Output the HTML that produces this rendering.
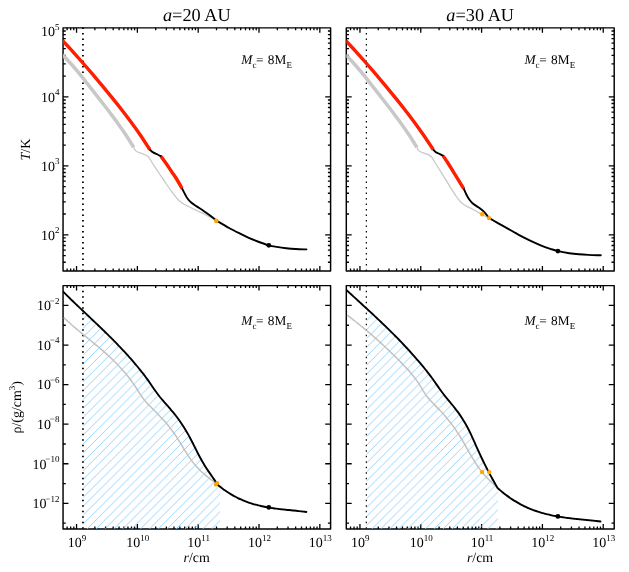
<!DOCTYPE html>
<html><head><meta charset="utf-8"><title>chart</title><style>html,body{margin:0;padding:0;background:#fff}svg{display:block}</style></head><body>
<svg width="629" height="572" viewBox="0 0 629 572">
<rect width="629" height="572" fill="#fff"/>
<defs>
<pattern id="h" patternUnits="userSpaceOnUse" width="8.9" height="8.9" x="2.0" y="0"><path d="M-1 9.9L9.9 -1M-1 1L1 -1M7.9 9.9L9.9 7.9" stroke="#7ccafb" stroke-width="0.8" fill="none"/></pattern>
<clipPath id="c00"><rect x="63.05" y="27.85" width="267.55" height="243.15"/></clipPath>
<clipPath id="c01"><rect x="63.05" y="285.60" width="267.55" height="243.30"/></clipPath>
<clipPath id="c10"><rect x="346.30" y="27.85" width="267.90" height="243.15"/></clipPath>
<clipPath id="c11"><rect x="346.30" y="285.60" width="267.90" height="243.30"/></clipPath>
<filter id="nf" x="0" y="0" width="629" height="572" filterUnits="userSpaceOnUse" color-interpolation-filters="sRGB"><feColorMatrix type="matrix" values="1 0 0 0 0 0 1 0 0 0 0 0 1 0 0 0 0 0 1 0"/></filter>
</defs>
<rect x="63.05" y="27.85" width="267.55" height="243.15" fill="none" stroke="#000" stroke-width="1.45" stroke-linejoin="round"/>
<rect x="63.05" y="285.60" width="267.55" height="243.30" fill="none" stroke="#000" stroke-width="1.45" stroke-linejoin="round"/>
<rect x="346.30" y="27.85" width="267.90" height="243.15" fill="none" stroke="#000" stroke-width="1.45" stroke-linejoin="round"/>
<rect x="346.30" y="285.60" width="267.90" height="243.30" fill="none" stroke="#000" stroke-width="1.45" stroke-linejoin="round"/>
<path d="M67.13 271.00v-2.45M67.13 27.85v2.45M70.66 271.00v-2.45M70.66 27.85v2.45M73.77 271.00v-2.45M73.77 27.85v2.45M76.55 271.00v-4.90M76.55 27.85v4.90M94.86 271.00v-2.45M94.86 27.85v2.45M105.57 271.00v-2.45M105.57 27.85v2.45M113.17 271.00v-2.45M113.17 27.85v2.45M119.06 271.00v-2.45M119.06 27.85v2.45M123.88 271.00v-2.45M123.88 27.85v2.45M127.95 271.00v-2.45M127.95 27.85v2.45M131.48 271.00v-2.45M131.48 27.85v2.45M134.59 271.00v-2.45M134.59 27.85v2.45M137.37 271.00v-4.90M137.37 27.85v4.90M155.68 271.00v-2.45M155.68 27.85v2.45M166.39 271.00v-2.45M166.39 27.85v2.45M173.99 271.00v-2.45M173.99 27.85v2.45M179.88 271.00v-2.45M179.88 27.85v2.45M184.70 271.00v-2.45M184.70 27.85v2.45M188.77 271.00v-2.45M188.77 27.85v2.45M192.30 271.00v-2.45M192.30 27.85v2.45M195.41 271.00v-2.45M195.41 27.85v2.45M198.19 271.00v-4.90M198.19 27.85v4.90M216.50 271.00v-2.45M216.50 27.85v2.45M227.21 271.00v-2.45M227.21 27.85v2.45M234.81 271.00v-2.45M234.81 27.85v2.45M240.70 271.00v-2.45M240.70 27.85v2.45M245.52 271.00v-2.45M245.52 27.85v2.45M249.59 271.00v-2.45M249.59 27.85v2.45M253.12 271.00v-2.45M253.12 27.85v2.45M256.23 271.00v-2.45M256.23 27.85v2.45M259.01 271.00v-4.90M259.01 27.85v4.90M277.32 271.00v-2.45M277.32 27.85v2.45M288.03 271.00v-2.45M288.03 27.85v2.45M295.63 271.00v-2.45M295.63 27.85v2.45M301.52 271.00v-2.45M301.52 27.85v2.45M306.34 271.00v-2.45M306.34 27.85v2.45M310.41 271.00v-2.45M310.41 27.85v2.45M313.94 271.00v-2.45M313.94 27.85v2.45M317.05 271.00v-2.45M317.05 27.85v2.45M319.83 271.00v-4.90M319.83 27.85v4.90M63.05 262.24h2.70M330.60 262.24h-2.70M63.05 255.56h2.70M330.60 255.56h-2.70M63.05 250.09h2.70M330.60 250.09h-2.70M63.05 245.48h2.70M330.60 245.48h-2.70M63.05 241.47h2.70M330.60 241.47h-2.70M63.05 237.95h2.70M330.60 237.95h-2.70M63.05 234.79h5.40M330.60 234.79h-5.40M63.05 214.02h2.70M330.60 214.02h-2.70M63.05 201.88h2.70M330.60 201.88h-2.70M63.05 193.26h2.70M330.60 193.26h-2.70M63.05 186.58h2.70M330.60 186.58h-2.70M63.05 181.11h2.70M330.60 181.11h-2.70M63.05 176.50h2.70M330.60 176.50h-2.70M63.05 172.49h2.70M330.60 172.49h-2.70M63.05 168.97h2.70M330.60 168.97h-2.70M63.05 165.81h5.40M330.60 165.81h-5.40M63.05 145.04h2.70M330.60 145.04h-2.70M63.05 132.90h2.70M330.60 132.90h-2.70M63.05 124.28h2.70M330.60 124.28h-2.70M63.05 117.60h2.70M330.60 117.60h-2.70M63.05 112.13h2.70M330.60 112.13h-2.70M63.05 107.52h2.70M330.60 107.52h-2.70M63.05 103.51h2.70M330.60 103.51h-2.70M63.05 99.99h2.70M330.60 99.99h-2.70M63.05 96.83h5.40M330.60 96.83h-5.40M63.05 76.06h2.70M330.60 76.06h-2.70M63.05 63.92h2.70M330.60 63.92h-2.70M63.05 55.30h2.70M330.60 55.30h-2.70M63.05 48.62h2.70M330.60 48.62h-2.70M63.05 43.15h2.70M330.60 43.15h-2.70M63.05 38.54h2.70M330.60 38.54h-2.70M63.05 34.53h2.70M330.60 34.53h-2.70M63.05 31.01h2.70M330.60 31.01h-2.70M67.13 528.90v-2.45M67.13 285.60v2.45M70.66 528.90v-2.45M70.66 285.60v2.45M73.77 528.90v-2.45M73.77 285.60v2.45M76.55 528.90v-4.90M76.55 285.60v4.90M94.86 528.90v-2.45M94.86 285.60v2.45M105.57 528.90v-2.45M105.57 285.60v2.45M113.17 528.90v-2.45M113.17 285.60v2.45M119.06 528.90v-2.45M119.06 285.60v2.45M123.88 528.90v-2.45M123.88 285.60v2.45M127.95 528.90v-2.45M127.95 285.60v2.45M131.48 528.90v-2.45M131.48 285.60v2.45M134.59 528.90v-2.45M134.59 285.60v2.45M137.37 528.90v-4.90M137.37 285.60v4.90M155.68 528.90v-2.45M155.68 285.60v2.45M166.39 528.90v-2.45M166.39 285.60v2.45M173.99 528.90v-2.45M173.99 285.60v2.45M179.88 528.90v-2.45M179.88 285.60v2.45M184.70 528.90v-2.45M184.70 285.60v2.45M188.77 528.90v-2.45M188.77 285.60v2.45M192.30 528.90v-2.45M192.30 285.60v2.45M195.41 528.90v-2.45M195.41 285.60v2.45M198.19 528.90v-4.90M198.19 285.60v4.90M216.50 528.90v-2.45M216.50 285.60v2.45M227.21 528.90v-2.45M227.21 285.60v2.45M234.81 528.90v-2.45M234.81 285.60v2.45M240.70 528.90v-2.45M240.70 285.60v2.45M245.52 528.90v-2.45M245.52 285.60v2.45M249.59 528.90v-2.45M249.59 285.60v2.45M253.12 528.90v-2.45M253.12 285.60v2.45M256.23 528.90v-2.45M256.23 285.60v2.45M259.01 528.90v-4.90M259.01 285.60v4.90M277.32 528.90v-2.45M277.32 285.60v2.45M288.03 528.90v-2.45M288.03 285.60v2.45M295.63 528.90v-2.45M295.63 285.60v2.45M301.52 528.90v-2.45M301.52 285.60v2.45M306.34 528.90v-2.45M306.34 285.60v2.45M310.41 528.90v-2.45M310.41 285.60v2.45M313.94 528.90v-2.45M313.94 285.60v2.45M317.05 528.90v-2.45M317.05 285.60v2.45M319.83 528.90v-4.90M319.83 285.60v4.90M63.05 523.14h2.70M330.60 523.14h-2.70M63.05 503.35h5.40M330.60 503.35h-5.40M63.05 483.56h2.70M330.60 483.56h-2.70M63.05 463.77h5.40M330.60 463.77h-5.40M63.05 443.98h2.70M330.60 443.98h-2.70M63.05 424.19h5.40M330.60 424.19h-5.40M63.05 404.40h2.70M330.60 404.40h-2.70M63.05 384.61h5.40M330.60 384.61h-5.40M63.05 364.82h2.70M330.60 364.82h-2.70M63.05 345.03h5.40M330.60 345.03h-5.40M63.05 325.24h2.70M330.60 325.24h-2.70M63.05 305.45h5.40M330.60 305.45h-5.40M350.53 271.00v-2.45M350.53 27.85v2.45M354.06 271.00v-2.45M354.06 27.85v2.45M357.17 271.00v-2.45M357.17 27.85v2.45M359.95 271.00v-4.90M359.95 27.85v4.90M378.26 271.00v-2.45M378.26 27.85v2.45M388.97 271.00v-2.45M388.97 27.85v2.45M396.57 271.00v-2.45M396.57 27.85v2.45M402.46 271.00v-2.45M402.46 27.85v2.45M407.28 271.00v-2.45M407.28 27.85v2.45M411.35 271.00v-2.45M411.35 27.85v2.45M414.88 271.00v-2.45M414.88 27.85v2.45M417.99 271.00v-2.45M417.99 27.85v2.45M420.77 271.00v-4.90M420.77 27.85v4.90M439.08 271.00v-2.45M439.08 27.85v2.45M449.79 271.00v-2.45M449.79 27.85v2.45M457.39 271.00v-2.45M457.39 27.85v2.45M463.28 271.00v-2.45M463.28 27.85v2.45M468.10 271.00v-2.45M468.10 27.85v2.45M472.17 271.00v-2.45M472.17 27.85v2.45M475.70 271.00v-2.45M475.70 27.85v2.45M478.81 271.00v-2.45M478.81 27.85v2.45M481.59 271.00v-4.90M481.59 27.85v4.90M499.90 271.00v-2.45M499.90 27.85v2.45M510.61 271.00v-2.45M510.61 27.85v2.45M518.21 271.00v-2.45M518.21 27.85v2.45M524.10 271.00v-2.45M524.10 27.85v2.45M528.92 271.00v-2.45M528.92 27.85v2.45M532.99 271.00v-2.45M532.99 27.85v2.45M536.52 271.00v-2.45M536.52 27.85v2.45M539.63 271.00v-2.45M539.63 27.85v2.45M542.41 271.00v-4.90M542.41 27.85v4.90M560.72 271.00v-2.45M560.72 27.85v2.45M571.43 271.00v-2.45M571.43 27.85v2.45M579.03 271.00v-2.45M579.03 27.85v2.45M584.92 271.00v-2.45M584.92 27.85v2.45M589.74 271.00v-2.45M589.74 27.85v2.45M593.81 271.00v-2.45M593.81 27.85v2.45M597.34 271.00v-2.45M597.34 27.85v2.45M600.45 271.00v-2.45M600.45 27.85v2.45M603.23 271.00v-4.90M603.23 27.85v4.90M346.30 262.24h2.70M614.20 262.24h-2.70M346.30 255.56h2.70M614.20 255.56h-2.70M346.30 250.09h2.70M614.20 250.09h-2.70M346.30 245.48h2.70M614.20 245.48h-2.70M346.30 241.47h2.70M614.20 241.47h-2.70M346.30 237.95h2.70M614.20 237.95h-2.70M346.30 234.79h5.40M614.20 234.79h-5.40M346.30 214.02h2.70M614.20 214.02h-2.70M346.30 201.88h2.70M614.20 201.88h-2.70M346.30 193.26h2.70M614.20 193.26h-2.70M346.30 186.58h2.70M614.20 186.58h-2.70M346.30 181.11h2.70M614.20 181.11h-2.70M346.30 176.50h2.70M614.20 176.50h-2.70M346.30 172.49h2.70M614.20 172.49h-2.70M346.30 168.97h2.70M614.20 168.97h-2.70M346.30 165.81h5.40M614.20 165.81h-5.40M346.30 145.04h2.70M614.20 145.04h-2.70M346.30 132.90h2.70M614.20 132.90h-2.70M346.30 124.28h2.70M614.20 124.28h-2.70M346.30 117.60h2.70M614.20 117.60h-2.70M346.30 112.13h2.70M614.20 112.13h-2.70M346.30 107.52h2.70M614.20 107.52h-2.70M346.30 103.51h2.70M614.20 103.51h-2.70M346.30 99.99h2.70M614.20 99.99h-2.70M346.30 96.83h5.40M614.20 96.83h-5.40M346.30 76.06h2.70M614.20 76.06h-2.70M346.30 63.92h2.70M614.20 63.92h-2.70M346.30 55.30h2.70M614.20 55.30h-2.70M346.30 48.62h2.70M614.20 48.62h-2.70M346.30 43.15h2.70M614.20 43.15h-2.70M346.30 38.54h2.70M614.20 38.54h-2.70M346.30 34.53h2.70M614.20 34.53h-2.70M346.30 31.01h2.70M614.20 31.01h-2.70M350.53 528.90v-2.45M350.53 285.60v2.45M354.06 528.90v-2.45M354.06 285.60v2.45M357.17 528.90v-2.45M357.17 285.60v2.45M359.95 528.90v-4.90M359.95 285.60v4.90M378.26 528.90v-2.45M378.26 285.60v2.45M388.97 528.90v-2.45M388.97 285.60v2.45M396.57 528.90v-2.45M396.57 285.60v2.45M402.46 528.90v-2.45M402.46 285.60v2.45M407.28 528.90v-2.45M407.28 285.60v2.45M411.35 528.90v-2.45M411.35 285.60v2.45M414.88 528.90v-2.45M414.88 285.60v2.45M417.99 528.90v-2.45M417.99 285.60v2.45M420.77 528.90v-4.90M420.77 285.60v4.90M439.08 528.90v-2.45M439.08 285.60v2.45M449.79 528.90v-2.45M449.79 285.60v2.45M457.39 528.90v-2.45M457.39 285.60v2.45M463.28 528.90v-2.45M463.28 285.60v2.45M468.10 528.90v-2.45M468.10 285.60v2.45M472.17 528.90v-2.45M472.17 285.60v2.45M475.70 528.90v-2.45M475.70 285.60v2.45M478.81 528.90v-2.45M478.81 285.60v2.45M481.59 528.90v-4.90M481.59 285.60v4.90M499.90 528.90v-2.45M499.90 285.60v2.45M510.61 528.90v-2.45M510.61 285.60v2.45M518.21 528.90v-2.45M518.21 285.60v2.45M524.10 528.90v-2.45M524.10 285.60v2.45M528.92 528.90v-2.45M528.92 285.60v2.45M532.99 528.90v-2.45M532.99 285.60v2.45M536.52 528.90v-2.45M536.52 285.60v2.45M539.63 528.90v-2.45M539.63 285.60v2.45M542.41 528.90v-4.90M542.41 285.60v4.90M560.72 528.90v-2.45M560.72 285.60v2.45M571.43 528.90v-2.45M571.43 285.60v2.45M579.03 528.90v-2.45M579.03 285.60v2.45M584.92 528.90v-2.45M584.92 285.60v2.45M589.74 528.90v-2.45M589.74 285.60v2.45M593.81 528.90v-2.45M593.81 285.60v2.45M597.34 528.90v-2.45M597.34 285.60v2.45M600.45 528.90v-2.45M600.45 285.60v2.45M603.23 528.90v-4.90M603.23 285.60v4.90M346.30 523.14h2.70M614.20 523.14h-2.70M346.30 503.35h5.40M614.20 503.35h-5.40M346.30 483.56h2.70M614.20 483.56h-2.70M346.30 463.77h5.40M614.20 463.77h-5.40M346.30 443.98h2.70M614.20 443.98h-2.70M346.30 424.19h5.40M614.20 424.19h-5.40M346.30 404.40h2.70M614.20 404.40h-2.70M346.30 384.61h5.40M614.20 384.61h-5.40M346.30 364.82h2.70M614.20 364.82h-2.70M346.30 345.03h5.40M614.20 345.03h-5.40M346.30 325.24h2.70M614.20 325.24h-2.70M346.30 305.45h5.40M614.20 305.45h-5.40" stroke="#000" stroke-width="1.3" fill="none"/>
<polygon points="83.2,311.1 85.1,312.9 87.6,315.3 90.1,317.6 92.6,320.0 95.1,322.4 97.6,324.8 100.1,327.1 102.6,329.6 105.1,332.0 107.6,334.4 110.1,336.9 112.6,339.4 115.1,341.9 117.6,344.5 120.1,347.1 122.6,349.8 125.1,352.5 127.6,355.2 130.1,358.0 132.6,360.9 135.1,363.8 137.6,366.8 140.1,369.8 142.6,373.0 145.1,376.2 147.6,379.7 150.1,383.2 152.6,386.9 155.1,390.6 157.6,394.0 160.1,397.2 162.6,400.2 165.1,403.1 167.6,405.9 170.1,408.7 172.6,411.7 175.1,414.8 177.6,418.1 180.1,421.5 182.6,425.2 185.1,429.2 187.6,433.4 190.1,437.9 192.6,442.8 195.1,447.8 197.6,452.8 200.1,457.6 202.6,462.0 205.1,466.1 207.6,470.0 210.1,473.6 212.6,477.2 215.1,480.9 217.6,484.6 220.0,486.6 220.0,528.9 83.2,528.9" fill="url(#h)"/>
<polygon points="366.5,308.4 369.0,310.7 371.5,313.1 374.0,315.4 376.5,317.8 379.1,320.1 381.6,322.6 384.1,325.0 386.6,327.4 389.1,329.9 391.7,332.4 394.2,334.9 396.7,337.4 399.2,340.0 401.7,342.6 404.3,345.3 406.8,348.0 409.3,350.8 411.8,353.5 414.3,356.4 416.9,359.3 419.4,362.2 421.9,365.2 424.4,368.3 426.9,371.4 429.5,374.7 432.0,378.0 434.5,381.5 437.0,385.2 439.5,388.8 442.1,392.3 444.6,395.6 447.1,398.7 449.6,401.7 452.1,404.8 454.7,407.9 457.2,411.1 459.7,414.6 462.2,418.4 464.7,422.5 467.3,427.0 469.8,431.9 472.3,437.4 474.8,443.0 477.3,448.7 479.9,454.2 482.4,459.5 484.9,464.6 487.4,469.6 489.9,474.4 492.5,479.0 495.0,483.5 497.5,487.9 498.0,488.3 498.0,528.9 366.5,528.9" fill="url(#h)"/>
<line x1="82.95" x2="82.95" y1="27.55" y2="271.00" stroke="#000" stroke-width="1.8" stroke-dasharray="1.5 4" stroke-dashoffset="0"/>
<line x1="82.95" x2="82.95" y1="285.30" y2="528.90" stroke="#000" stroke-width="1.8" stroke-dasharray="1.5 4" stroke-dashoffset="0"/>
<line x1="366.35" x2="366.35" y1="27.55" y2="271.00" stroke="#000" stroke-width="1.2" stroke-dasharray="1.5 4" stroke-dashoffset="0"/>
<line x1="366.35" x2="366.35" y1="285.30" y2="528.90" stroke="#000" stroke-width="1.2" stroke-dasharray="1.5 4" stroke-dashoffset="0"/>
<g clip-path="url(#c00)">
<path d="M62.60 55.00C63.92 56.37 67.87 60.30 70.50 63.20C73.13 66.10 75.77 69.22 78.40 72.40C81.03 75.58 83.67 78.97 86.30 82.30C88.93 85.63 91.57 89.03 94.20 92.40C96.83 95.77 99.47 99.10 102.10 102.50C104.73 105.90 107.37 109.32 110.00 112.80C112.63 116.28 115.27 119.73 117.90 123.40C120.53 127.07 123.17 130.80 125.80 134.80C128.43 138.80 132.38 145.30 133.70 147.40" fill="none" stroke="#c8c8c8" stroke-width="3.5" stroke-linejoin="round" stroke-linecap="butt"/>
<path d="M133.70 147.40C134.00 147.93 134.58 149.72 135.50 150.60C136.42 151.48 137.77 152.08 139.20 152.70C140.63 153.32 142.55 153.58 144.10 154.30C145.65 155.02 147.18 155.63 148.50 157.00C149.82 158.37 150.25 159.83 152.00 162.50C153.75 165.17 156.67 169.50 159.00 173.00C161.33 176.50 163.67 180.12 166.00 183.50C168.33 186.88 171.02 190.63 173.00 193.30C174.98 195.97 176.38 197.88 177.90 199.50C179.42 201.12 180.35 201.83 182.10 203.00C183.85 204.17 185.97 205.25 188.40 206.50C190.83 207.75 193.92 209.18 196.70 210.50C199.48 211.82 202.53 213.12 205.10 214.40C207.67 215.68 210.23 217.17 212.10 218.20C213.97 219.23 215.60 220.20 216.30 220.60" fill="none" stroke="#c8c8c8" stroke-width="1.3" stroke-linejoin="round" stroke-linecap="butt"/>
<path d="M62.60 40.70C64.22 42.43 69.07 47.55 72.30 51.10C75.53 54.65 78.77 58.32 82.00 62.00C85.23 65.68 88.47 69.42 91.70 73.20C94.93 76.98 98.18 80.83 101.40 84.70C104.62 88.57 107.78 92.43 111.00 96.40C114.22 100.37 117.47 104.37 120.70 108.50C123.93 112.63 127.17 116.83 130.40 121.20C133.63 125.57 136.87 129.98 140.10 134.70C143.33 139.42 148.18 147.03 149.80 149.50C151.42 151.97 149.52 149.22 149.80 149.50C150.08 149.78 150.88 150.67 151.50 151.20C152.12 151.73 152.48 152.15 153.50 152.70C154.52 153.25 156.33 153.88 157.60 154.50C158.87 155.12 160.52 156.08 161.10 156.40C161.68 156.72 160.28 155.27 161.10 156.40C161.92 157.53 164.25 160.67 166.00 163.20C167.75 165.73 169.73 168.80 171.60 171.60C173.47 174.40 175.47 177.20 177.20 180.00C178.93 182.80 181.20 187.00 182.00 188.40C182.80 189.80 181.52 187.47 182.00 188.40C182.48 189.33 183.95 192.27 184.90 194.00C185.85 195.73 186.65 197.37 187.70 198.80C188.75 200.23 189.70 201.33 191.20 202.60C192.70 203.87 194.62 205.00 196.70 206.40C198.78 207.80 201.37 209.40 203.70 211.00C206.03 212.60 208.60 214.40 210.70 216.00C212.80 217.60 215.37 219.83 216.30 220.60M216.30 220.60C217.47 221.27 221.17 223.37 223.30 224.60C225.43 225.83 226.55 226.62 229.10 228.00C231.65 229.38 235.42 231.30 238.60 232.90C241.78 234.50 245.02 236.17 248.20 237.60C251.38 239.03 254.27 240.22 257.70 241.50C261.13 242.78 265.62 244.40 268.80 245.30C271.98 246.20 273.88 246.42 276.80 246.90C279.72 247.38 283.12 247.85 286.30 248.20C289.48 248.55 292.55 248.80 295.90 249.00C299.25 249.20 304.65 249.33 306.40 249.40" fill="none" stroke="#000" stroke-width="1.9" stroke-linejoin="round" stroke-linecap="round"/>
<path d="M62.60 40.70C64.22 42.43 69.07 47.55 72.30 51.10C75.53 54.65 78.77 58.32 82.00 62.00C85.23 65.68 88.47 69.42 91.70 73.20C94.93 76.98 98.18 80.83 101.40 84.70C104.62 88.57 107.78 92.43 111.00 96.40C114.22 100.37 117.47 104.37 120.70 108.50C123.93 112.63 127.17 116.83 130.40 121.20C133.63 125.57 136.87 129.98 140.10 134.70C143.33 139.42 148.18 147.03 149.80 149.50" fill="none" stroke="#ff1e00" stroke-width="3.4" stroke-linejoin="round" stroke-linecap="butt"/>
<path d="M161.10 156.40C161.92 157.53 164.25 160.67 166.00 163.20C167.75 165.73 169.73 168.80 171.60 171.60C173.47 174.40 175.47 177.20 177.20 180.00C178.93 182.80 181.20 187.00 182.00 188.40" fill="none" stroke="#ff1e00" stroke-width="3.4" stroke-linejoin="round" stroke-linecap="butt"/>
</g><g clip-path="url(#c10)">
<path d="M345.80 55.00C347.12 56.37 351.07 60.30 353.70 63.20C356.33 66.10 358.97 69.22 361.60 72.40C364.23 75.58 366.87 78.97 369.50 82.30C372.13 85.63 374.77 89.03 377.40 92.40C380.03 95.77 382.67 99.10 385.30 102.50C387.93 105.90 390.57 109.32 393.20 112.80C395.83 116.28 398.47 119.73 401.10 123.40C403.73 127.07 406.37 130.80 409.00 134.80C411.63 138.80 415.58 145.30 416.90 147.40" fill="none" stroke="#c8c8c8" stroke-width="3.5" stroke-linejoin="round" stroke-linecap="butt"/>
<path d="M416.90 147.40C417.20 147.93 417.78 149.72 418.70 150.60C419.62 151.48 420.97 152.08 422.40 152.70C423.83 153.32 425.78 153.58 427.30 154.30C428.82 155.02 430.22 155.63 431.50 157.00C432.78 158.37 433.25 159.72 435.00 162.50C436.75 165.28 439.67 169.97 442.00 173.70C444.33 177.43 446.67 181.18 449.00 184.90C451.33 188.62 454.02 193.10 456.00 196.00C457.98 198.90 459.27 200.67 460.90 202.30C462.53 203.93 463.82 204.63 465.80 205.80C467.78 206.97 470.72 208.20 472.80 209.30C474.88 210.40 476.80 211.58 478.30 212.40C479.80 213.22 480.40 213.43 481.80 214.20C483.20 214.97 485.48 216.37 486.70 217.00C487.92 217.63 488.70 217.83 489.10 218.00" fill="none" stroke="#c8c8c8" stroke-width="1.3" stroke-linejoin="round" stroke-linecap="butt"/>
<path d="M345.80 40.70C347.42 42.43 352.27 47.55 355.50 51.10C358.73 54.65 361.97 58.32 365.20 62.00C368.43 65.68 371.67 69.42 374.90 73.20C378.13 76.98 381.38 80.83 384.60 84.70C387.82 88.57 390.98 92.43 394.20 96.40C397.42 100.37 400.67 104.37 403.90 108.50C407.13 112.63 410.37 116.83 413.60 121.20C416.83 125.57 420.03 129.98 423.30 134.70C426.57 139.42 431.55 147.03 433.20 149.50C434.85 151.97 432.93 149.22 433.20 149.50C433.47 149.78 434.23 150.67 434.80 151.20C435.37 151.73 435.75 152.22 436.60 152.70C437.45 153.18 438.82 153.57 439.90 154.10C440.98 154.63 442.57 155.60 443.10 155.90C443.63 156.20 442.35 154.80 443.10 155.90C443.85 157.00 445.92 159.88 447.60 162.50C449.28 165.12 451.33 168.57 453.20 171.60C455.07 174.63 457.05 177.87 458.80 180.70C460.55 183.53 462.88 187.28 463.70 188.60C464.52 189.92 463.23 187.58 463.70 188.60C464.17 189.62 465.57 192.88 466.50 194.70C467.43 196.52 468.25 198.03 469.30 199.50C470.35 200.97 471.30 202.22 472.80 203.50C474.30 204.78 476.45 205.85 478.30 207.20C480.15 208.55 482.10 209.80 483.90 211.60C485.70 213.40 488.23 216.93 489.10 218.00M489.10 218.00C489.75 218.37 490.77 218.92 493.00 220.20C495.23 221.48 499.32 223.90 502.50 225.70C505.68 227.50 508.92 229.22 512.10 231.00C515.28 232.78 518.42 234.72 521.60 236.40C524.78 238.08 528.02 239.62 531.20 241.10C534.38 242.58 537.52 244.02 540.70 245.30C543.88 246.58 547.43 247.83 550.30 248.80C553.17 249.77 554.73 250.37 557.90 251.10C561.07 251.83 565.80 252.67 569.30 253.20C572.80 253.73 575.72 254.02 578.90 254.30C582.08 254.58 584.75 254.73 588.40 254.90C592.05 255.07 598.73 255.23 600.80 255.30" fill="none" stroke="#000" stroke-width="1.9" stroke-linejoin="round" stroke-linecap="round"/>
<path d="M345.80 40.70C347.42 42.43 352.27 47.55 355.50 51.10C358.73 54.65 361.97 58.32 365.20 62.00C368.43 65.68 371.67 69.42 374.90 73.20C378.13 76.98 381.38 80.83 384.60 84.70C387.82 88.57 390.98 92.43 394.20 96.40C397.42 100.37 400.67 104.37 403.90 108.50C407.13 112.63 410.37 116.83 413.60 121.20C416.83 125.57 420.03 129.98 423.30 134.70C426.57 139.42 431.55 147.03 433.20 149.50" fill="none" stroke="#ff1e00" stroke-width="3.4" stroke-linejoin="round" stroke-linecap="butt"/>
<path d="M443.10 155.90C443.85 157.00 445.92 159.88 447.60 162.50C449.28 165.12 451.33 168.57 453.20 171.60C455.07 174.63 457.05 177.87 458.80 180.70C460.55 183.53 462.88 187.28 463.70 188.60" fill="none" stroke="#ff1e00" stroke-width="3.4" stroke-linejoin="round" stroke-linecap="butt"/>
</g><g clip-path="url(#c01)">
<path d="M63.80 317.60C64.22 318.00 65.48 319.20 66.32 319.98C67.16 320.76 68.00 321.52 68.84 322.28C69.68 323.04 70.52 323.79 71.36 324.53C72.20 325.27 73.05 326.00 73.89 326.72C74.73 327.44 75.57 328.16 76.41 328.87C77.25 329.58 78.09 330.28 78.93 330.98C79.77 331.68 80.61 332.37 81.45 333.06C82.29 333.75 83.13 334.44 83.97 335.12C84.81 335.81 85.65 336.49 86.49 337.17C87.33 337.85 88.17 338.54 89.01 339.22C89.85 339.90 90.69 340.58 91.53 341.27C92.37 341.95 93.22 342.64 94.06 343.33C94.90 344.02 95.74 344.71 96.58 345.41C97.42 346.11 98.26 346.82 99.10 347.53C99.94 348.24 100.78 348.96 101.62 349.68C102.46 350.40 103.30 351.13 104.14 351.87C104.98 352.61 105.82 353.36 106.66 354.12C107.50 354.88 108.34 355.65 109.18 356.43C110.02 357.21 110.86 358.00 111.70 358.81C112.54 359.62 113.39 360.44 114.23 361.27C115.07 362.10 115.91 362.95 116.75 363.82C117.59 364.69 118.43 365.56 119.27 366.46C120.11 367.36 120.95 368.26 121.79 369.20C122.63 370.13 123.47 371.09 124.31 372.07C125.15 373.05 125.99 374.05 126.83 375.08C127.67 376.11 128.51 377.17 129.35 378.26C130.19 379.35 131.04 380.47 131.88 381.63C132.72 382.79 133.56 383.97 134.40 385.20C135.24 386.43 136.08 387.71 136.92 389.01C137.76 390.31 138.60 391.69 139.44 392.98C140.28 394.27 141.12 395.57 141.96 396.76C142.80 397.95 143.64 399.05 144.48 400.10C145.32 401.15 146.16 402.12 147.00 403.07C147.84 404.01 148.68 404.89 149.52 405.77C150.36 406.64 151.21 407.48 152.05 408.32C152.89 409.16 153.73 409.98 154.57 410.81C155.41 411.64 156.25 412.48 157.09 413.33C157.93 414.18 158.77 415.04 159.61 415.91C160.45 416.78 161.29 417.66 162.13 418.57C162.97 419.48 163.81 420.40 164.65 421.35C165.49 422.30 166.33 423.27 167.17 424.28C168.01 425.29 168.86 426.32 169.70 427.39C170.54 428.46 171.38 429.56 172.22 430.70C173.06 431.84 173.90 433.02 174.74 434.25C175.58 435.48 176.42 436.75 177.26 438.06C178.10 439.37 178.94 440.73 179.78 442.09C180.62 443.45 181.46 444.86 182.30 446.24C183.14 447.62 183.98 449.02 184.82 450.38C185.66 451.74 186.50 453.09 187.34 454.39C188.18 455.69 189.03 456.97 189.87 458.17C190.71 459.38 191.55 460.52 192.39 461.62C193.23 462.72 194.07 463.75 194.91 464.75C195.75 465.75 196.59 466.68 197.43 467.59C198.27 468.50 199.11 469.35 199.95 470.18C200.79 471.01 201.63 471.80 202.47 472.57C203.31 473.34 204.15 474.06 204.99 474.78C205.83 475.50 206.67 476.18 207.51 476.86C208.35 477.54 209.20 478.20 210.04 478.85C210.88 479.50 211.72 480.13 212.56 480.77C213.40 481.41 214.24 482.04 215.08 482.68C215.92 483.32 217.18 484.28 217.60 484.60" fill="none" stroke="#c2c2c2" stroke-width="1.5" stroke-linejoin="round" stroke-linecap="butt"/>
<path d="M62.60 291.10C63.02 291.52 64.27 292.78 65.10 293.61C65.93 294.44 66.77 295.28 67.60 296.10C68.43 296.92 69.27 297.74 70.10 298.55C70.93 299.37 71.77 300.18 72.60 300.99C73.43 301.80 74.27 302.60 75.10 303.40C75.93 304.20 76.77 305.00 77.60 305.80C78.43 306.60 79.27 307.39 80.10 308.18C80.93 308.97 81.77 309.77 82.60 310.56C83.43 311.35 84.27 312.13 85.10 312.92C85.93 313.71 86.77 314.49 87.60 315.28C88.43 316.07 89.27 316.85 90.10 317.64C90.93 318.43 91.77 319.22 92.60 320.01C93.43 320.80 94.27 321.59 95.10 322.38C95.93 323.17 96.77 323.96 97.60 324.76C98.43 325.56 99.27 326.35 100.10 327.15C100.93 327.95 101.77 328.75 102.60 329.56C103.43 330.37 104.27 331.17 105.10 331.98C105.93 332.79 106.77 333.61 107.60 334.43C108.43 335.25 109.27 336.08 110.10 336.91C110.93 337.74 111.77 338.57 112.60 339.41C113.43 340.25 114.27 341.10 115.10 341.95C115.93 342.80 116.77 343.66 117.60 344.52C118.43 345.38 119.27 346.25 120.10 347.13C120.93 348.01 121.77 348.89 122.60 349.78C123.43 350.67 124.27 351.56 125.10 352.47C125.93 353.38 126.77 354.30 127.60 355.22C128.43 356.15 129.27 357.08 130.10 358.02C130.93 358.96 131.77 359.91 132.60 360.87C133.43 361.83 134.27 362.80 135.10 363.78C135.93 364.76 136.77 365.75 137.60 366.75C138.43 367.75 139.27 368.77 140.10 369.81C140.93 370.85 141.77 371.90 142.60 372.97C143.43 374.04 144.27 375.12 145.10 376.24C145.93 377.36 146.77 378.50 147.60 379.66C148.43 380.83 149.27 382.02 150.10 383.23C150.93 384.44 151.77 385.69 152.60 386.91C153.43 388.13 154.27 389.37 155.10 390.55C155.93 391.74 156.77 392.91 157.60 394.02C158.43 395.13 159.27 396.20 160.10 397.23C160.93 398.26 161.77 399.25 162.60 400.22C163.43 401.20 164.27 402.13 165.10 403.08C165.93 404.02 166.77 404.95 167.60 405.89C168.43 406.83 169.27 407.76 170.10 408.73C170.93 409.70 171.77 410.67 172.60 411.68C173.43 412.69 174.27 413.72 175.10 414.78C175.93 415.84 176.77 416.93 177.60 418.05C178.43 419.17 179.27 420.33 180.10 421.52C180.93 422.71 181.77 423.94 182.60 425.21C183.43 426.48 184.27 427.80 185.10 429.16C185.93 430.53 186.77 431.94 187.60 433.40C188.43 434.86 189.27 436.38 190.10 437.94C190.93 439.50 191.77 441.14 192.60 442.78C193.43 444.42 194.27 446.11 195.10 447.77C195.93 449.43 196.77 451.13 197.60 452.76C198.43 454.39 199.27 456.02 200.10 457.57C200.93 459.12 201.77 460.61 202.60 462.04C203.43 463.47 204.27 464.82 205.10 466.14C205.93 467.46 206.77 468.72 207.60 469.97C208.43 471.22 209.27 472.42 210.10 473.63C210.93 474.84 211.77 476.03 212.60 477.23C213.43 478.43 214.27 479.62 215.10 480.85C215.93 482.08 217.18 483.98 217.60 484.60M217.60 484.60C218.02 484.95 219.29 486.01 220.14 486.69C220.98 487.37 221.82 488.03 222.67 488.66C223.51 489.30 224.36 489.91 225.21 490.50C226.06 491.09 226.90 491.67 227.75 492.22C228.60 492.78 229.44 493.31 230.29 493.83C231.13 494.35 231.97 494.85 232.82 495.33C233.66 495.81 234.51 496.28 235.36 496.73C236.21 497.18 237.06 497.61 237.90 498.03C238.75 498.45 239.59 498.85 240.43 499.23C241.28 499.62 242.12 499.98 242.97 500.34C243.82 500.69 244.66 501.03 245.51 501.36C246.36 501.69 247.21 502.01 248.05 502.31C248.90 502.61 249.74 502.90 250.58 503.18C251.43 503.46 252.27 503.72 253.12 503.97C253.97 504.22 254.81 504.47 255.66 504.70C256.50 504.93 257.34 505.15 258.19 505.36C259.04 505.57 259.88 505.78 260.73 505.97C261.58 506.16 262.42 506.34 263.27 506.52C264.12 506.69 264.97 506.86 265.81 507.02C266.65 507.18 267.50 507.33 268.34 507.47C269.18 507.62 270.03 507.76 270.88 507.89C271.73 508.02 272.58 508.15 273.42 508.27C274.26 508.39 275.11 508.51 275.95 508.62C276.79 508.73 277.64 508.84 278.49 508.94C279.34 509.04 280.18 509.14 281.03 509.24C281.88 509.34 282.72 509.43 283.57 509.52C284.42 509.61 285.25 509.70 286.10 509.79C286.95 509.88 287.79 509.97 288.64 510.05C289.49 510.13 290.34 510.22 291.18 510.30C292.02 510.38 292.87 510.47 293.71 510.56C294.55 510.65 295.40 510.73 296.25 510.82C297.10 510.91 297.94 511.00 298.79 511.09C299.64 511.18 300.49 511.27 301.33 511.37C302.17 511.47 303.01 511.56 303.86 511.67C304.71 511.78 305.98 511.94 306.40 512.00" fill="none" stroke="#000" stroke-width="1.9" stroke-linejoin="round" stroke-linecap="round"/>
</g><g clip-path="url(#c11)">
<path d="M347.00 315.00C347.42 315.31 348.67 316.25 349.51 316.89C350.35 317.52 351.19 318.17 352.02 318.81C352.85 319.45 353.69 320.10 354.52 320.75C355.35 321.40 356.19 322.07 357.03 322.73C357.87 323.39 358.70 324.06 359.54 324.73C360.38 325.40 361.21 326.09 362.05 326.77C362.89 327.45 363.72 328.14 364.56 328.83C365.40 329.52 366.24 330.23 367.07 330.93C367.90 331.63 368.74 332.34 369.57 333.05C370.40 333.76 371.24 334.49 372.08 335.21C372.92 335.93 373.75 336.66 374.59 337.39C375.43 338.12 376.26 338.87 377.10 339.61C377.94 340.36 378.77 341.10 379.61 341.86C380.45 342.62 381.29 343.38 382.12 344.15C382.95 344.92 383.79 345.68 384.62 346.46C385.45 347.24 386.29 348.02 387.13 348.81C387.97 349.60 388.80 350.39 389.64 351.19C390.48 351.99 391.31 352.80 392.15 353.61C392.99 354.42 393.82 355.24 394.66 356.06C395.50 356.88 396.33 357.71 397.17 358.54C398.01 359.37 398.85 360.21 399.68 361.06C400.51 361.91 401.35 362.76 402.18 363.62C403.01 364.48 403.85 365.33 404.69 366.21C405.53 367.09 406.36 367.97 407.20 368.88C408.04 369.79 408.87 370.72 409.71 371.68C410.55 372.64 411.38 373.63 412.22 374.66C413.06 375.69 413.90 376.76 414.73 377.88C415.56 379.00 416.40 380.16 417.23 381.38C418.06 382.60 418.90 383.89 419.74 385.22C420.58 386.55 421.41 388.00 422.25 389.35C423.09 390.70 423.92 392.09 424.76 393.34C425.60 394.58 426.44 395.73 427.27 396.82C428.10 397.91 428.94 398.90 429.77 399.86C430.60 400.82 431.44 401.70 432.28 402.58C433.12 403.46 433.95 404.29 434.79 405.13C435.63 405.97 436.46 406.78 437.30 407.62C438.14 408.46 438.97 409.31 439.81 410.19C440.65 411.07 441.49 411.97 442.32 412.89C443.15 413.81 443.99 414.74 444.82 415.71C445.65 416.68 446.49 417.67 447.33 418.69C448.17 419.71 449.00 420.75 449.84 421.83C450.68 422.90 451.51 424.00 452.35 425.14C453.19 426.27 454.02 427.44 454.86 428.64C455.70 429.84 456.53 431.07 457.37 432.34C458.21 433.61 459.05 434.91 459.88 436.25C460.71 437.59 461.55 438.98 462.38 440.39C463.21 441.80 464.05 443.27 464.89 444.73C465.73 446.19 466.56 447.69 467.40 449.17C468.24 450.65 469.07 452.16 469.91 453.62C470.75 455.08 471.58 456.55 472.42 457.96C473.26 459.37 474.10 460.77 474.93 462.09C475.76 463.41 476.60 464.68 477.43 465.90C478.26 467.12 479.10 468.27 479.94 469.39C480.78 470.50 481.61 471.56 482.45 472.59C483.29 473.62 484.12 474.59 484.96 475.54C485.80 476.49 486.63 477.40 487.47 478.28C488.31 479.16 489.15 480.01 489.98 480.84C490.81 481.67 491.65 482.48 492.48 483.28C493.31 484.08 494.15 484.85 494.99 485.62C495.83 486.39 497.08 487.52 497.50 487.90" fill="none" stroke="#c2c2c2" stroke-width="1.5" stroke-linejoin="round" stroke-linecap="butt"/>
<path d="M346.30 289.90C346.72 290.29 347.98 291.46 348.82 292.23C349.66 293.00 350.50 293.78 351.34 294.55C352.18 295.32 353.02 296.09 353.86 296.86C354.70 297.63 355.54 298.40 356.38 299.17C357.22 299.94 358.06 300.71 358.90 301.48C359.74 302.25 360.58 303.01 361.42 303.78C362.26 304.55 363.10 305.33 363.94 306.10C364.78 306.87 365.62 307.64 366.46 308.41C367.30 309.18 368.14 309.96 368.98 310.74C369.82 311.52 370.66 312.29 371.50 313.07C372.34 313.85 373.18 314.63 374.02 315.42C374.86 316.21 375.70 316.99 376.54 317.78C377.38 318.57 378.22 319.35 379.06 320.15C379.90 320.94 380.74 321.75 381.58 322.55C382.42 323.35 383.26 324.15 384.10 324.96C384.94 325.77 385.78 326.58 386.62 327.40C387.46 328.22 388.30 329.04 389.14 329.87C389.98 330.70 390.82 331.53 391.66 332.36C392.50 333.19 393.34 334.03 394.18 334.88C395.02 335.73 395.86 336.57 396.70 337.43C397.54 338.29 398.38 339.15 399.22 340.02C400.06 340.89 400.90 341.76 401.74 342.64C402.58 343.52 403.42 344.41 404.26 345.30C405.10 346.19 405.94 347.09 406.78 348.00C407.62 348.91 408.46 349.83 409.30 350.75C410.14 351.67 410.98 352.60 411.82 353.54C412.66 354.48 413.50 355.43 414.34 356.38C415.18 357.33 416.02 358.29 416.86 359.26C417.70 360.23 418.54 361.21 419.38 362.20C420.22 363.19 421.06 364.19 421.90 365.20C422.74 366.21 423.58 367.22 424.42 368.26C425.26 369.30 426.10 370.34 426.94 371.41C427.78 372.48 428.62 373.56 429.46 374.66C430.30 375.76 431.14 376.88 431.98 378.03C432.82 379.18 433.66 380.35 434.50 381.54C435.34 382.73 436.18 383.96 437.02 385.16C437.86 386.37 438.70 387.59 439.54 388.77C440.38 389.95 441.22 391.13 442.06 392.26C442.90 393.39 443.74 394.48 444.58 395.55C445.42 396.62 446.26 397.64 447.10 398.66C447.94 399.69 448.78 400.69 449.62 401.70C450.46 402.71 451.30 403.72 452.14 404.75C452.98 405.78 453.82 406.81 454.66 407.88C455.50 408.95 456.34 410.02 457.18 411.15C458.02 412.27 458.86 413.42 459.70 414.63C460.54 415.84 461.38 417.08 462.22 418.39C463.06 419.70 463.90 421.05 464.74 422.48C465.58 423.91 466.42 425.40 467.26 426.98C468.10 428.56 468.94 430.22 469.78 431.95C470.62 433.68 471.46 435.51 472.30 437.35C473.14 439.19 473.98 441.09 474.82 442.98C475.66 444.87 476.50 446.80 477.34 448.67C478.18 450.54 479.02 452.40 479.86 454.21C480.70 456.02 481.54 457.79 482.38 459.53C483.22 461.27 484.06 462.97 484.90 464.65C485.74 466.32 486.58 467.96 487.42 469.58C488.26 471.20 489.10 472.78 489.94 474.35C490.78 475.92 491.62 477.46 492.46 478.98C493.30 480.50 494.14 482.00 494.98 483.49C495.82 484.98 497.08 487.16 497.50 487.90M497.50 487.90C497.92 488.27 499.17 489.41 500.01 490.13C500.85 490.85 501.68 491.56 502.52 492.24C503.36 492.92 504.20 493.58 505.04 494.23C505.88 494.88 506.71 495.51 507.55 496.12C508.39 496.73 509.22 497.33 510.06 497.91C510.90 498.49 511.73 499.04 512.57 499.59C513.41 500.13 514.25 500.67 515.09 501.18C515.93 501.69 516.76 502.19 517.60 502.67C518.44 503.15 519.27 503.62 520.11 504.07C520.95 504.52 521.78 504.96 522.62 505.38C523.46 505.80 524.29 506.21 525.13 506.61C525.97 507.01 526.81 507.39 527.65 507.76C528.49 508.13 529.32 508.49 530.16 508.83C531.00 509.17 531.83 509.50 532.67 509.82C533.51 510.14 534.34 510.45 535.18 510.75C536.02 511.05 536.86 511.33 537.70 511.61C538.54 511.89 539.37 512.15 540.21 512.41C541.05 512.66 541.88 512.90 542.72 513.14C543.56 513.38 544.39 513.60 545.23 513.82C546.07 514.04 546.90 514.25 547.74 514.45C548.58 514.65 549.42 514.85 550.26 515.03C551.10 515.21 551.93 515.39 552.77 515.56C553.61 515.73 554.44 515.89 555.28 516.05C556.12 516.21 556.95 516.36 557.79 516.50C558.63 516.64 559.46 516.78 560.30 516.91C561.14 517.04 561.98 517.17 562.82 517.29C563.66 517.41 564.49 517.54 565.33 517.65C566.17 517.76 567.00 517.87 567.84 517.97C568.68 518.08 569.51 518.18 570.35 518.28C571.19 518.38 572.03 518.48 572.87 518.57C573.71 518.66 574.54 518.75 575.38 518.84C576.22 518.93 577.05 519.01 577.89 519.10C578.73 519.19 579.56 519.27 580.40 519.35C581.24 519.43 582.07 519.52 582.91 519.60C583.75 519.68 584.59 519.77 585.43 519.85C586.27 519.93 587.10 520.02 587.94 520.10C588.78 520.18 589.61 520.26 590.45 520.35C591.29 520.44 592.12 520.53 592.96 520.62C593.80 520.71 594.64 520.79 595.48 520.89C596.32 520.99 597.15 521.09 597.99 521.19C598.83 521.29 600.08 521.45 600.50 521.50" fill="none" stroke="#000" stroke-width="1.9" stroke-linejoin="round" stroke-linecap="round"/>
</g>
<circle cx="216.3" cy="220.9" r="2.3" fill="#ffa500"/>
<circle cx="268.8" cy="245.3" r="2.4" fill="#000"/>
<circle cx="482.2" cy="214.2" r="2.2" fill="#ffa500"/>
<circle cx="489.0" cy="218.1" r="2.2" fill="#ffa500"/>
<circle cx="557.9" cy="251.1" r="2.4" fill="#000"/>
<circle cx="217.2" cy="483.0" r="2.1" fill="#ffa500"/>
<circle cx="215.9" cy="484.6" r="2.1" fill="#ffa500"/>
<circle cx="268.8" cy="507.3" r="2.4" fill="#000"/>
<circle cx="482.1" cy="472.1" r="2.2" fill="#ffa500"/>
<circle cx="489.2" cy="472.1" r="2.2" fill="#ffa500"/>
<circle cx="557.9" cy="516.4" r="2.4" fill="#000"/>
<g font-family="'Liberation Serif', serif" fill="#000" text-rendering="geometricPrecision" filter="url(#nf)">
<text x="59.40" y="36.15" font-size="14.0" text-anchor="end">10<tspan font-size="9.0" dy="-6.5">5</tspan></text>
<text x="59.40" y="101.63" font-size="14.0" text-anchor="end">10<tspan font-size="9.0" dy="-6.5">4</tspan></text>
<text x="59.40" y="170.61" font-size="14.0" text-anchor="end">10<tspan font-size="9.0" dy="-6.5">3</tspan></text>
<text x="59.40" y="239.59" font-size="14.0" text-anchor="end">10<tspan font-size="9.0" dy="-6.5">2</tspan></text>
<text x="59.40" y="310.25" font-size="14.0" text-anchor="end">10<tspan font-size="9.0" dy="-6.5" dx="-1.2">−2</tspan></text>
<text x="59.40" y="349.83" font-size="14.0" text-anchor="end">10<tspan font-size="9.0" dy="-6.5" dx="-1.2">−4</tspan></text>
<text x="59.40" y="389.41" font-size="14.0" text-anchor="end">10<tspan font-size="9.0" dy="-6.5" dx="-1.2">−6</tspan></text>
<text x="59.40" y="428.99" font-size="14.0" text-anchor="end">10<tspan font-size="9.0" dy="-6.5" dx="-1.2">−8</tspan></text>
<text x="59.40" y="468.57" font-size="14.0" text-anchor="end">10<tspan font-size="9.0" dy="-6.5" dx="-1.2">−10</tspan></text>
<text x="59.40" y="508.15" font-size="14.0" text-anchor="end">10<tspan font-size="9.0" dy="-6.5" dx="-1.2">−12</tspan></text>
<text x="76.95" y="547.10" font-size="14.0" text-anchor="middle">10<tspan font-size="9.0" dy="-6.5">9</tspan></text>
<text x="137.77" y="547.10" font-size="14.0" text-anchor="middle">10<tspan font-size="9.0" dy="-6.5">10</tspan></text>
<text x="198.59" y="547.10" font-size="14.0" text-anchor="middle">10<tspan font-size="9.0" dy="-6.5">11</tspan></text>
<text x="259.41" y="547.10" font-size="14.0" text-anchor="middle">10<tspan font-size="9.0" dy="-6.5">12</tspan></text>
<text x="320.23" y="547.10" font-size="14.0" text-anchor="middle">10<tspan font-size="9.0" dy="-6.5">13</tspan></text>
<text x="360.35" y="547.10" font-size="14.0" text-anchor="middle">10<tspan font-size="9.0" dy="-6.5">9</tspan></text>
<text x="421.17" y="547.10" font-size="14.0" text-anchor="middle">10<tspan font-size="9.0" dy="-6.5">10</tspan></text>
<text x="481.99" y="547.10" font-size="14.0" text-anchor="middle">10<tspan font-size="9.0" dy="-6.5">11</tspan></text>
<text x="542.81" y="547.10" font-size="14.0" text-anchor="middle">10<tspan font-size="9.0" dy="-6.5">12</tspan></text>
<text x="603.63" y="547.10" font-size="14.0" text-anchor="middle">10<tspan font-size="9.0" dy="-6.5">13</tspan></text>
<text x="196.8" y="20.7" font-size="18.3" text-anchor="middle"><tspan font-style="italic">a</tspan>=20 AU</text>
<text x="480.2" y="20.7" font-size="18.3" text-anchor="middle"><tspan font-style="italic">a</tspan>=30 AU</text>
<text x="196.6" y="561.8" font-size="13.9" text-anchor="middle"><tspan font-style="italic">r</tspan>/cm</text>
<text x="480.0" y="561.8" font-size="13.9" text-anchor="middle"><tspan font-style="italic">r</tspan>/cm</text>
<text transform="translate(30.4 149.6) rotate(-90)" font-size="13.9" text-anchor="middle"><tspan font-style="italic">T</tspan>/K</text>
<text transform="translate(20.8 407.3) rotate(-90)" font-size="13.9" text-anchor="middle">ρ/(g/cm<tspan font-size="9" dy="-5.6">3</tspan><tspan dy="5.6">)</tspan></text>
<text x="241.3" y="63.9" font-size="13.3"><tspan font-style="italic">M</tspan><tspan font-size="9" dy="3.9">c</tspan><tspan dy="-3.9" dx="-0.4">= </tspan><tspan dx="1.0">8M</tspan><tspan font-size="9" dy="3.9" dx="0.2">E</tspan></text>
<text x="241.3" y="324.6" font-size="13.3"><tspan font-style="italic">M</tspan><tspan font-size="9" dy="3.9">c</tspan><tspan dy="-3.9" dx="-0.4">= </tspan><tspan dx="1.0">8M</tspan><tspan font-size="9" dy="3.9" dx="0.2">E</tspan></text>
<text x="524.5" y="63.9" font-size="13.3"><tspan font-style="italic">M</tspan><tspan font-size="9" dy="3.9">c</tspan><tspan dy="-3.9" dx="-0.4">= </tspan><tspan dx="1.0">8M</tspan><tspan font-size="9" dy="3.9" dx="0.2">E</tspan></text>
<text x="524.5" y="324.6" font-size="13.3"><tspan font-style="italic">M</tspan><tspan font-size="9" dy="3.9">c</tspan><tspan dy="-3.9" dx="-0.4">= </tspan><tspan dx="1.0">8M</tspan><tspan font-size="9" dy="3.9" dx="0.2">E</tspan></text>
</g>
</svg>
</body></html>
